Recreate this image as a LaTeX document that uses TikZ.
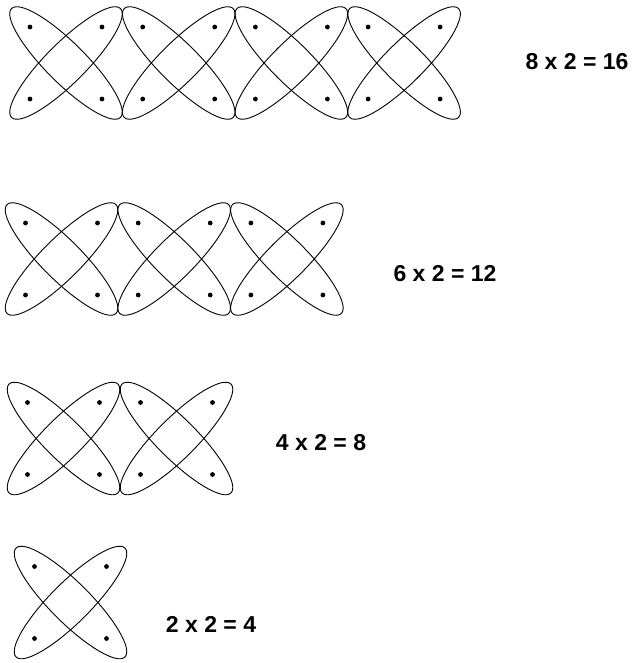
\documentclass[tikz,border=0pt]{standalone}
\usepackage{fontspec}
\setmainfont{Liberation Sans}
\tikzset{
  boucle/.style={draw=black, line width=0.9pt},
  formule/.style={font=\bfseries\fontsize{23}{27}\selectfont, inner sep=0pt},
}
% une croix = deux boucles et quatre points
\newcommand{\croix}[2]{%
  \begin{scope}[shift={(#1,#2)}]
    \draw[boucle, rotate=45] (0,0) ellipse [x radius=77, y radius=20];
    \draw[boucle, rotate=-45] (0,0) ellipse [x radius=77, y radius=20];
    \foreach \dx/\dy in {-36/-36, 36/-36, -36/36, 36/36}
      \fill (\dx,\dy) circle [radius=2.4];
  \end{scope}}
\begin{document}
\begin{tikzpicture}[x=1pt, y=-1pt]
  \useasboundingbox (0,0) rectangle (635,663);

  % rangee 1
  \foreach \i in {0,...,3}
    \croix{66+112.7*\i}{63};
  \node[formule] (seize) at (577,62) {8 x 2 = 16};

  % rangee 2
  \foreach \i in {0,...,2}
    \croix{61.5+112.7*\i}{259};
  \node[formule] (douze) at (445,274) {6 x 2 = 12};

  % rangee 3
  \foreach \i in {0,1}
    \croix{63.5+113*\i}{438.5};
  \node[formule] (huit) at (321,443) {4 x 2 = 8};

  % rangee 4
  \croix{70.5}{602.5};
  \node[formule] (quatre) at (211,624) {2 x 2 = 4};
\end{tikzpicture}
\end{document}
